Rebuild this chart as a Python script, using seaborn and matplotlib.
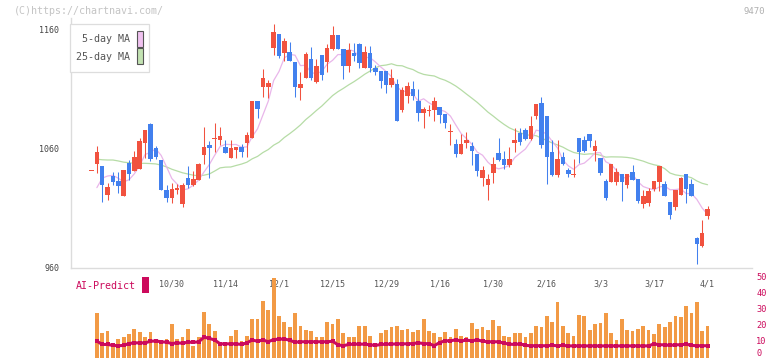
import numpy as np
import pandas as pd
import matplotlib
matplotlib.use("Agg")
import matplotlib.pyplot as plt
from matplotlib.patches import Rectangle
import seaborn as sns

# ---------------- data ----------------
opens = [1041, 1046.7, 1045.2, 1021, 1036.8, 1032.6, 1020.2, 1047.5, 1041, 1042.7,
         1064.9, 1080.7, 1060.2, 1050.3, 1025, 1018.2, 1025, 1013.4, 1034.8, 1029.2,
         1033.4, 1054.5, 1062.9, 1067.8, 1067.2, 1061, 1051.7, 1058.7, 1061.5, 1064.9,
         1068.6, 1100.1, 1112.2, 1112.2, 1145.1, 1156.6, 1140.3, 1141.4, 1133, 1111.3,
         1119.7, 1135.5, 1116.4, 1138.9, 1133, 1144, 1155.8, 1144, 1129.6, 1140.6,
         1148.2, 1128.2, 1140.6, 1127.9, 1125.4, 1125.4, 1113.6, 1114.4, 1092.5, 1104.6,
         1110.2, 1100.1, 1089.7, 1091.6, 1092.5, 1095, 1089.1, 1073.7, 1063.8, 1055.4,
         1064.9, 1062.1, 1055.1, 1035.4, 1029.2, 1039.6, 1056, 1051.1, 1046.1, 1064.6,
         1073.1, 1075.6, 1068, 1087.4, 1098.4, 1087.4, 1057, 1037.6, 1052.8, 1041.9,
         1037.5, 1068.9, 1067.2, 1072.2, 1057.9, 1052, 1032.6, 1032, 1032, 1038.5,
         1029.2, 1040.2, 1034, 1013.4, 1014.3, 1025.8, 1032, 1030, 1014.9, 1010.9,
         1020.8, 1038.5, 1030, 984.7, 977.7, 1003]
highs = [1041, 1062, 1045.2, 1031, 1040, 1040, 1041.9, 1050.3, 1057.9, 1069.1,
         1075.6, 1081.8, 1062.1, 1050.3, 1029.2, 1031.2, 1030, 1031.2, 1045.5, 1041,
         1048, 1078.4, 1066.6, 1081.8, 1078.4, 1067.2, 1067.2, 1061.3, 1063.8, 1074.2,
         1100.1, 1100.1, 1126.8, 1117.8, 1165, 1156.6, 1153.5, 1149.9, 1133, 1124.8,
         1141.4, 1145.4, 1135.5, 1138.9, 1148.2, 1163.4, 1155.8, 1144, 1149, 1149,
         1149, 1146.5, 1146.5, 1130.5, 1125.4, 1125.4, 1127.1, 1118.4, 1112.2, 1116.4,
         1117, 1110.2, 1095.3, 1096.7, 1103.7, 1095, 1089.1, 1080.7, 1068, 1072.2,
         1074.2, 1065.7, 1055.1, 1045.2, 1038.5, 1052.6, 1068.6, 1058.1, 1061.3, 1077.3,
         1077.3, 1077.3, 1087.4, 1097.6, 1103.5, 1087.4, 1067.2, 1067.2, 1057, 1043.5,
         1051.1, 1068.9, 1070.5, 1072.2, 1067.2, 1052, 1034.3, 1046.9, 1043.8, 1038.5,
         1038.5, 1046.1, 1034, 1025, 1026.4, 1032.6, 1045.5, 1032.8, 1014.9, 1025,
         1036.2, 1038.5, 1034.3, 985.6, 999.7, 1011.5]
lows = [1041, 1039, 1015, 1016.5, 1029.5, 1022.2, 1020.2, 1033.4, 1041, 1042.7,
        1052.2, 1049.7, 1050.9, 1025, 1015, 1014.3, 1021.6, 1010.4, 1026.7, 1028.6,
        1033.4, 1046.9, 1034.8, 1057.3, 1062.9, 1056, 1051.7, 1051.7, 1053.1, 1053.1,
        1068.6, 1085.5, 1103.7, 1102.9, 1138.9, 1136.6, 1133.8, 1134, 1103.7, 1100.9,
        1119.7, 1117.8, 1115, 1117.8, 1124.8, 1143.1, 1144, 1118.6, 1124.8, 1133.8,
        1128.2, 1128.2, 1124.8, 1122, 1111.3, 1107.1, 1112.2, 1083.5, 1091.1, 1098.6,
        1100.9, 1083.2, 1077.6, 1087.7, 1083.2, 1081.3, 1077.6, 1062.9, 1053.1, 1055.4,
        1060.2, 1046.1, 1036.8, 1028.4, 1016.5, 1031.1, 1049.4, 1042.7, 1044.4, 1057,
        1062.9, 1067.2, 1067.2, 1084.9, 1060.4, 1030, 1036.8, 1035.7, 1046.1, 1036.2,
        1036.2, 1048, 1057, 1061.3, 1049.4, 1037.6, 1016.5, 1032, 1029.2, 1015.7,
        1026.4, 1033.4, 1014.3, 1010, 1011.7, 1024.1, 1024.1, 1019.9, 1000.5, 1008,
        1020.8, 1014.3, 1019.9, 962.5, 977.1, 1000.5]
closes = [1041, 1057, 1029.4, 1027.5, 1032, 1028.6, 1041.9, 1038.2, 1052.8, 1066.3,
          1075.6, 1050.9, 1053.1, 1025, 1018.5, 1025.8, 1027, 1029.2, 1029.2, 1034.3,
          1046.9, 1061.5, 1060.7, 1068.6, 1070.5, 1056.5, 1060.2, 1061.3, 1057.3, 1071.4,
          1100.1, 1093.1, 1119.7, 1115.5, 1158.3, 1138.3, 1150.7, 1134.1, 1112.2, 1114.4,
          1139.7, 1119.7, 1129.6, 1122, 1144.8, 1155.8, 1144, 1129.6, 1143.1, 1138.3,
          1132.2, 1141.4, 1128.2, 1124.8, 1117.2, 1113.6, 1119.5, 1083.5, 1109.4, 1112.7,
          1104.6, 1089.7, 1093.3, 1092.5, 1100.1, 1088.3, 1081.8, 1074.2, 1055.1, 1063.8,
          1067.2, 1057.9, 1041, 1041.9, 1034.3, 1046.9, 1050.3, 1046.1, 1051.1, 1067.2,
          1065.5, 1068, 1079, 1097.6, 1062.9, 1053.1, 1037.6, 1051.1, 1046.9, 1038.5,
          1038.2, 1057, 1057.9, 1066.3, 1062.1, 1039.3, 1018.5, 1046.9, 1040.4, 1032,
          1038.5, 1033.4, 1015.7, 1019.9, 1024.1, 1032.6, 1045.5, 1019.9, 1003.9, 1025,
          1035.4, 1025.8, 1019.9, 979.4, 988.4, 1008.7]

ma5_head = [np.nan, 1027, 1035, 1036.8]
ma25_head = [np.nan, 1051, 1050.5, 1050.3, 1050.3, 1049.5, 1048.5, 1048, 1047.5, 1047.5,
             1047.5, 1047.3, 1047, 1046, 1044.5, 1042.5, 1041, 1039.5, 1038.5, 1037.5,
             1037, 1037.5, 1038.5, 1041]

volume = [0, 27.9, 15.1, 16.4, 8.8, 11.9, 13.2, 14.5, 18.2, 15.9,
          12.6, 15.9, 11.9, 11.3, 11.7, 20.8, 11.9, 13.2, 18.2, 7.5,
          12.6, 28.5, 20.8, 16.4, 7.5, 8.8, 13.8, 17.6, 10.1, 13.8,
          23.9, 23.9, 35.8, 30.0, 49.7, 26.4, 22.2, 18.9, 27.7, 20.1,
          17.0, 16.4, 13.2, 13.2, 22.2, 20.8, 24.5, 15.1, 13.2, 13.2,
          19.5, 20.1, 13.8, 9.4, 15.7, 17.0, 19.1, 19.7, 17.6, 18.2,
          15.9, 17.2, 24.5, 16.5, 15.1, 12.6, 15.9, 13.2, 18.2, 13.8,
          13.2, 21.4, 18.2, 18.9, 17.0, 23.3, 20.1, 13.8, 13.2, 15.7,
          15.1, 12.6, 15.1, 20.1, 18.9, 26.4, 22.2, 34.6, 19.5, 15.1,
          13.8, 27.0, 25.8, 17.0, 20.8, 21.4, 27.7, 15.1, 11.3, 23.9,
          17.0, 16.4, 18.2, 19.5, 17.0, 14.5, 20.8, 18.9, 22.2, 26.4,
          25.2, 32.1, 27.7, 34.6, 16.5, 19.5]
ai_predict = [np.nan, 10.3, 8.2, 8.2, 7.6, 7.4, 7.6, 8.8, 9.2, 9.2,
              9.2, 10.2, 10.4, 9.9, 9.6, 8.8, 9.2, 9.0, 9.6, 9.6,
              9.8, 12.8, 12.0, 11.0, 8.6, 8.6, 8.6, 8.6, 8.2, 9.2,
              11.0, 10.2, 11.0, 9.9, 11.3, 11.5, 11.7, 10.8, 9.6, 9.9,
              9.9, 9.9, 9.9, 9.9, 9.9, 10.2, 8.0, 7.4, 8.2, 8.4,
              8.4, 8.4, 8.0, 7.6, 8.2, 8.4, 8.4, 8.6, 8.6, 8.6,
              8.8, 9.2, 8.8, 8.6, 7.5, 9.4, 10.5, 10.5, 11.1, 10.4,
              10.9, 10.5, 11.1, 10.2, 9.9, 9.9, 9.9, 9.0, 8.4, 8.2,
              8.6, 7.6, 7.4, 7.4, 7.4, 7.4, 7.6, 7.4, 7.6, 7.3,
              7.3, 7.3, 7.3, 7.3, 7.3, 7.3, 7.3, 7.3, 7.3, 7.3,
              7.3, 7.3, 7.3, 7.3, 7.3, 8.6, 8.0, 8.0, 7.6, 8.0,
              8.0, 8.4, 7.6, 7.4, 7.4, 7.4]

date_labels = ["10/30", "11/14", "12/1", "12/15", "12/29", "1/16", "1/30", "2/16", "3/3", "3/17", "4/1"]
date_pos = [15, 25, 35, 45, 55, 65, 75, 85, 95, 105, 115]
price_ticks = [960, 1060, 1160]
vol_ticks = [0, 10, 20, 30, 40, 50]

# ---------------- style ----------------
sns.set_style("white")
plt.rcParams["font.family"] = ["DejaVu Sans Mono", "DejaVu Sans"]

RED = "#f1523f"
BLUE = "#4280ee"
PINK = "#e9b6ea"
GREEN = "#b6dca6"
ORANGE = "#f29a45"
MAGENTA = "#cc0a5c"
GRID = "#dcdcdc"
TXT = "#555555"

W, H = 772, 361
fig = plt.figure(figsize=(W / 100, H / 100), dpi=100)


def fx(x):
    return x / W


def fy(y):
    return 1 - y / H


XL = (-3.83, 123.3)

# ---------------- price panel ----------------
ax = fig.add_axes([fx(71), fy(268), fx(752) - fx(71), fy(18) - fy(268)])
ax.set_xlim(*XL)
ax.set_ylim(959.2, 1170.1)

df = pd.DataFrame({"o": opens, "h": highs, "l": lows, "c": closes})
df["i"] = np.arange(len(df))
up = df["c"] >= df["o"]
cols = np.where(up, RED, BLUE)
bottom = np.minimum(df["o"], df["c"])
height = np.maximum((df["c"] - df["o"]).abs(), 0.9)

ma5 = df["c"].rolling(5).mean()
ma5.iloc[:len(ma5_head)] = ma5_head
ma25 = df["c"].rolling(25).mean()
ma25.iloc[:len(ma25_head)] = ma25_head

sns.lineplot(x=df["i"], y=ma25, ax=ax, color=GREEN, lw=0.9, zorder=1)
sns.lineplot(x=df["i"], y=ma5, ax=ax, color=PINK, lw=0.9, zorder=1)
ax.vlines(df["i"], df["l"], df["h"], colors=cols, lw=0.75, zorder=2)
ax.bar(df["i"], height, bottom=bottom, width=0.84, color=cols, linewidth=0, zorder=3)

for s in ["top", "right"]:
    ax.spines[s].set_visible(False)
for s in ["left", "bottom"]:
    ax.spines[s].set_color(GRID)
    ax.spines[s].set_linewidth(1.0)

ax.set_yticks(price_ticks)
ax.set_yticklabels([str(t) for t in price_ticks])
ax.tick_params(axis="y", length=4.3, width=0.8, color=GRID, pad=4, labelsize=6, labelcolor="#444444")
ax.set_xticks(date_pos)
ax.set_xticklabels(date_labels)
ax.tick_params(axis="x", which="major", length=0, pad=8.5, labelsize=6, labelcolor=TXT)
ax.set_xticks(np.linspace(XL[0], XL[1], 12), minor=True)
ax.tick_params(axis="x", which="minor", length=3.8, width=0.8, color=GRID)
ax.set_xlabel("")
ax.set_ylabel("")
ax.patch.set_alpha(0)

# ---------------- volume panel ----------------
V0 = 357.5
axv = fig.add_axes([fx(71), fy(V0), fx(752) - fx(71), fy(V0 - 52 * 1.59) - fy(V0)])
axv.set_xlim(*XL)
axv.set_ylim(0, 52)
axv.bar(df["i"], volume, width=0.7, color=ORANGE, linewidth=0, zorder=2)
sns.lineplot(x=df["i"], y=ai_predict, ax=axv, color=MAGENTA, lw=2.2, zorder=3,
             marker="s", markersize=2.2, markeredgewidth=0)
for s in axv.spines.values():
    s.set_visible(False)
axv.set_xticks([])
axv.yaxis.tick_right()
axv.set_yticks(vol_ticks)
axv.set_yticklabels([str(t) for t in vol_ticks])
axv.tick_params(axis="y", length=0, pad=3, labelsize=6.2, labelcolor=MAGENTA)
for lab in axv.get_yticklabels():
    lab.set_va("bottom" if lab.get_text() == "0" else "center")
axv.set_xlabel("")
axv.set_ylabel("")
axv.patch.set_alpha(0)

# ---------------- annotations ----------------
fig.text(fx(14), fy(11), "(C)https://chartnavi.com/", fontsize=7.2, color="#c4c4c4",
         ha="left", va="center")
fig.text(fx(765), fy(12), "9470", fontsize=6.5, color="#b0b0b0", ha="right", va="center")

# MA legend box
fig.add_artist(Rectangle((fx(70), fy(71.5)), fx(149) - fx(70), fy(24) - fy(71.5),
                         transform=fig.transFigure, facecolor="white", edgecolor="#dddddd",
                         lw=0.9, zorder=5))
fig.text(fx(130), fy(39), "5-day MA", fontsize=7.2, color=TXT, ha="right", va="center", zorder=6)
fig.text(fx(130), fy(56.5), "25-day MA", fontsize=7.2, color=TXT, ha="right", va="center", zorder=6)
fig.add_artist(Rectangle((fx(136.5), fy(46.5)), fx(142.5) - fx(136.5), fy(31) - fy(46.5),
                         transform=fig.transFigure, facecolor="#f0c2f0", edgecolor="#555555",
                         lw=0.8, zorder=6))
fig.add_artist(Rectangle((fx(136.5), fy(63.5)), fx(142.5) - fx(136.5), fy(48.3) - fy(63.5),
                         transform=fig.transFigure, facecolor="#c2e2b2", edgecolor="#555555",
                         lw=0.8, zorder=6))

# AI-Predict legend
fig.text(fx(135.5), fy(286), "AI-Predict", fontsize=7.2, color=MAGENTA, ha="right", va="center", zorder=6)
fig.add_artist(Rectangle((fx(142.3), fy(292.7)), fx(148.7) - fx(142.3), fy(276.7) - fy(292.7),
                         transform=fig.transFigure, facecolor=MAGENTA, edgecolor="none", zorder=6))

fig.savefig("out.png", dpi=100)
